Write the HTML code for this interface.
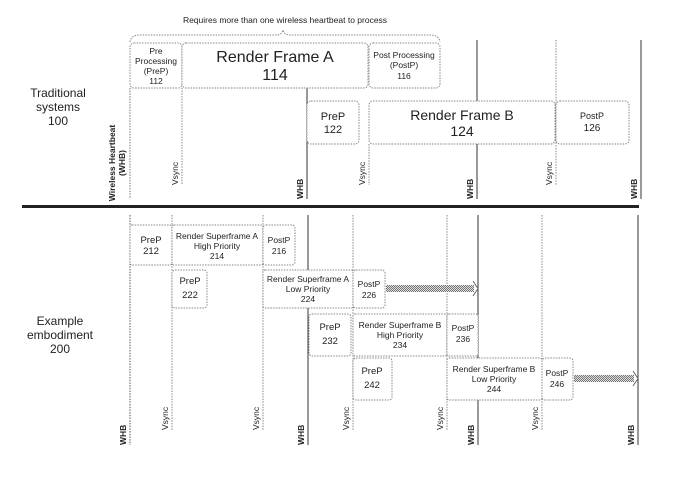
<!DOCTYPE html>
<html><head><meta charset="utf-8"><style>html,body{margin:0;padding:0;background:#fff}svg{display:block}text{font-family:"Liberation Sans",sans-serif;fill:#222}</style></head><body>
<svg width="690" height="481" viewBox="0 0 690 481" xmlns="http://www.w3.org/2000/svg">
<defs>
<pattern id="hp" width="2" height="2" patternUnits="userSpaceOnUse"><rect width="2" height="2" fill="#ddd"/><rect width="1" height="1" fill="#777"/><rect x="1" y="1" width="1" height="1" fill="#777"/></pattern>
</defs>
<g stroke="#888" stroke-width="1" fill="none" stroke-dasharray="1.5 1.2">
<!-- top lines -->
<line x1="130" y1="88" x2="130" y2="199" stroke="#777"/>
<line x1="182" y1="88" x2="182" y2="185"/>
<line x1="369" y1="144" x2="369" y2="185"/>
<line x1="556" y1="40" x2="556" y2="185"/>
<!-- bottom dotted -->
<line x1="130" y1="215" x2="130" y2="445" stroke="#555"/>
<line x1="172" y1="215" x2="172" y2="430"/>
<line x1="263" y1="215" x2="263" y2="430"/>
<line x1="353" y1="215" x2="353" y2="430"/>
<line x1="447" y1="215" x2="447" y2="430"/>
<line x1="542" y1="215" x2="542" y2="430"/>
</g>
<g stroke="#333" stroke-width="1">
<line x1="307" y1="88" x2="307" y2="199"/>
<line x1="477" y1="40" x2="477" y2="199"/>
<line x1="641" y1="40" x2="641" y2="199"/>
<line x1="308" y1="215" x2="308" y2="445"/>
<line x1="478" y1="215" x2="478" y2="445"/>
<line x1="638" y1="215" x2="638" y2="445"/>
</g>
<!-- separator -->
<rect x="22" y="205" width="617" height="3" fill="#222"/>
<!-- brace -->
<path d="M130 42 Q131 35 140 35 L276 35 Q282 35 283 30 Q284 35 290 35 L430 35 Q439 35 440 42" fill="none" stroke="#888" stroke-dasharray="1.5 1.2"/>
<text x="285" y="23" font-size="8.5" text-anchor="middle">Requires more than one wireless heartbeat to process</text>
<!-- top boxes -->
<g fill="#fff" stroke="#888" stroke-dasharray="1.5 1.2">
<rect x="130" y="43" width="52" height="45" rx="4"/>
<rect x="182" y="43" width="186" height="45" rx="4"/>
<rect x="369" y="43" width="71" height="45" rx="4"/>
<rect x="307" y="101" width="52" height="43" rx="4"/>
<rect x="369" y="101" width="186" height="43" rx="4"/>
<rect x="556" y="101" width="73" height="43" rx="4"/>
</g>
<g text-anchor="middle">
<text x="156" y="54" font-size="8.5">Pre</text>
<text x="156" y="64" font-size="8.5">Processing</text>
<text x="156" y="74" font-size="8.5">(PreP)</text>
<text x="156" y="84" font-size="8.5">112</text>
<text x="275" y="62" font-size="16">Render Frame A</text>
<text x="275" y="80" font-size="16">114</text>
<text x="404" y="58" font-size="8.5">Post Processing</text>
<text x="404" y="68" font-size="8.5">(PostP)</text>
<text x="404" y="79" font-size="8.5">116</text>
<text x="333" y="120" font-size="11">PreP</text>
<text x="333" y="133" font-size="11">122</text>
<text x="462" y="120" font-size="14">Render Frame B</text>
<text x="462" y="136" font-size="14">124</text>
<text x="592" y="119" font-size="9">PostP</text>
<text x="592" y="131" font-size="10">126</text>
<text x="58" y="97" font-size="12">Traditional</text>
<text x="58" y="111" font-size="12">systems</text>
<text x="58" y="125" font-size="12">100</text>
<text x="60" y="325" font-size="12">Example</text>
<text x="60" y="339" font-size="12">embodiment</text>
<text x="60" y="353" font-size="12">200</text>
</g>
<!-- rotated labels top -->
<g font-size="8.5">
<text transform="translate(115,163) rotate(-90)" text-anchor="middle" font-weight="bold">Wireless Heartbeat</text>
<text transform="translate(125,163) rotate(-90)" text-anchor="middle" font-weight="bold">(WHB)</text>
<text transform="translate(178,185) rotate(-90)">Vsync</text>
<text transform="translate(303,199) rotate(-90)" font-weight="bold">WHB</text>
<text transform="translate(365,185) rotate(-90)">Vsync</text>
<text transform="translate(473,199) rotate(-90)" font-weight="bold">WHB</text>
<text transform="translate(552,185) rotate(-90)">Vsync</text>
<text transform="translate(637,199) rotate(-90)" font-weight="bold">WHB</text>
<!-- bottom -->
<text transform="translate(126,445) rotate(-90)" font-weight="bold">WHB</text>
<text transform="translate(168,430) rotate(-90)">Vsync</text>
<text transform="translate(259,430) rotate(-90)">Vsync</text>
<text transform="translate(304,445) rotate(-90)" font-weight="bold">WHB</text>
<text transform="translate(349,430) rotate(-90)">Vsync</text>
<text transform="translate(443,430) rotate(-90)">Vsync</text>
<text transform="translate(474,445) rotate(-90)" font-weight="bold">WHB</text>
<text transform="translate(538,430) rotate(-90)">Vsync</text>
<text transform="translate(634,445) rotate(-90)" font-weight="bold">WHB</text>
</g>
<!-- arrows -->
<rect x="386" y="285" width="88" height="7" fill="url(#hp)"/>
<path d="M473 281 L478 288.5 L473 296" fill="none" stroke="#666"/>
<rect x="574" y="375" width="60" height="7" fill="url(#hp)"/>
<path d="M633 371 L638 378.5 L633 386" fill="none" stroke="#666"/>
<!-- bottom boxes -->
<g fill="#fff" stroke="#888" stroke-dasharray="1.5 1.2">
<rect x="130" y="225" width="42" height="40" rx="2"/>
<rect x="172" y="225" width="91" height="40" rx="2"/>
<rect x="263" y="225" width="32" height="40" rx="3"/>
<rect x="172" y="270" width="35" height="38" rx="3"/>
<rect x="263" y="270" width="90" height="38" rx="2"/>
<rect x="353" y="270" width="32" height="38" rx="3"/>
<rect x="309" y="314" width="42" height="42" rx="3"/>
<rect x="353" y="314" width="94" height="42" rx="2"/>
<rect x="447" y="314" width="31" height="42" rx="2"/>
<rect x="353" y="358" width="39" height="42" rx="3"/>
<rect x="447" y="358" width="95" height="42" rx="2"/>
<rect x="542" y="358" width="31" height="42" rx="3"/>
</g>
<g text-anchor="middle">
<text x="151" y="243" font-size="9.5">PreP</text>
<text x="151" y="254" font-size="9.5">212</text>
<text x="217" y="239" font-size="8.5">Render Superframe A</text>
<text x="217" y="249" font-size="8.5">High Priority</text>
<text x="217" y="259" font-size="8.5">214</text>
<text x="279" y="243" font-size="8.5">PostP</text>
<text x="279" y="254" font-size="8.5">216</text>
<text x="190" y="284" font-size="9.5">PreP</text>
<text x="190" y="298" font-size="9.5">222</text>
<text x="308" y="282" font-size="8.5">Render Superframe A</text>
<text x="308" y="292" font-size="8.5">Low Priority</text>
<text x="308" y="302" font-size="8.5">224</text>
<text x="369" y="287" font-size="8.5">PostP</text>
<text x="369" y="298" font-size="8.5">226</text>
<text x="330" y="330" font-size="9.5">PreP</text>
<text x="330" y="344" font-size="9.5">232</text>
<text x="400" y="328" font-size="8.5">Render Superframe B</text>
<text x="400" y="338" font-size="8.5">High Priority</text>
<text x="400" y="348" font-size="8.5">234</text>
<text x="463" y="331" font-size="8.5">PostP</text>
<text x="463" y="342" font-size="8.5">236</text>
<text x="372" y="374" font-size="9.5">PreP</text>
<text x="372" y="388" font-size="9.5">242</text>
<text x="494" y="372" font-size="8.5">Render Superframe B</text>
<text x="494" y="382" font-size="8.5">Low Priority</text>
<text x="494" y="392" font-size="8.5">244</text>
<text x="557" y="376" font-size="8.5">PostP</text>
<text x="557" y="387" font-size="8.5">246</text>
</g>
</svg>
</body></html>
